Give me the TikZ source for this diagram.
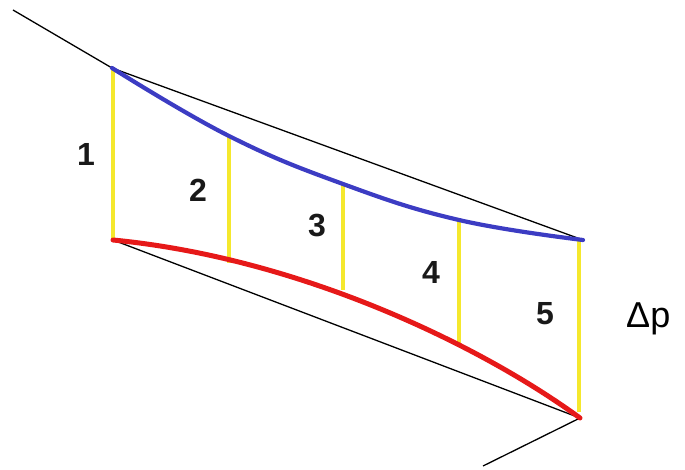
\documentclass[tikz,border=0pt]{standalone}
\usepackage{fontspec}
\setmainfont{Liberation Sans}
\definecolor{cblue}{RGB}{60,60,195}
\definecolor{cred}{RGB}{230,25,25}
\definecolor{cyellow}{RGB}{245,232,45}
\begin{document}
\begin{tikzpicture}[x=1pt,y=-1pt,
  guide/.style={black,line width=1.3pt},
  bar/.style={cyellow,line width=4.4pt},
  upper/.style={cblue,line width=4.2pt,line cap=round},
  lower/.style={cred,line width=5pt,line cap=round},
  num/.style={font=\fontsize{32}{32}\selectfont\bfseries,text=black!90,inner sep=0pt},
  dlabel/.style={font=\fontsize{36}{36}\selectfont,inner sep=0pt}]
\useasboundingbox (0,0) rectangle (685,470);
% key points
\coordinate (tl0) at (13,10);
\coordinate (A) at (112,68);
\coordinate (B) at (583,240);
\coordinate (C) at (113,240);
\coordinate (D) at (580,418);
\coordinate (br0) at (483,466);
% guide lines
\draw[guide] (tl0) -- (A) -- (B);
\draw[guide] (C) -- (D) -- (br0);
% yellow bars
\draw[bar] (113,68) -- (113,240);
\draw[bar] (229,137) -- (229,263);
\draw[bar] (343,185) -- (343,290);
\draw[bar] (459,221) -- (459,343);
\draw[bar] (579,241) -- (579,412);
% curves
\draw[upper] plot[smooth,tension=0.7] coordinates {(112,68) (229,136) (343,184) (459,220) (583,240)};
\draw[lower] (C) .. controls (300,258) and (480,345) .. (D);
% labels
\node[num] (n1) at (86,154) {1};
\node[num] (n2) at (198,190) {2};
\node[num] (n3) at (317,226) {3};
\node[num] (n4) at (431,272) {4};
\node[num] (n5) at (545,314) {5};
\node[dlabel,anchor=base west] (dp) at (626,327) {Δp};
\end{tikzpicture}
\end{document}
